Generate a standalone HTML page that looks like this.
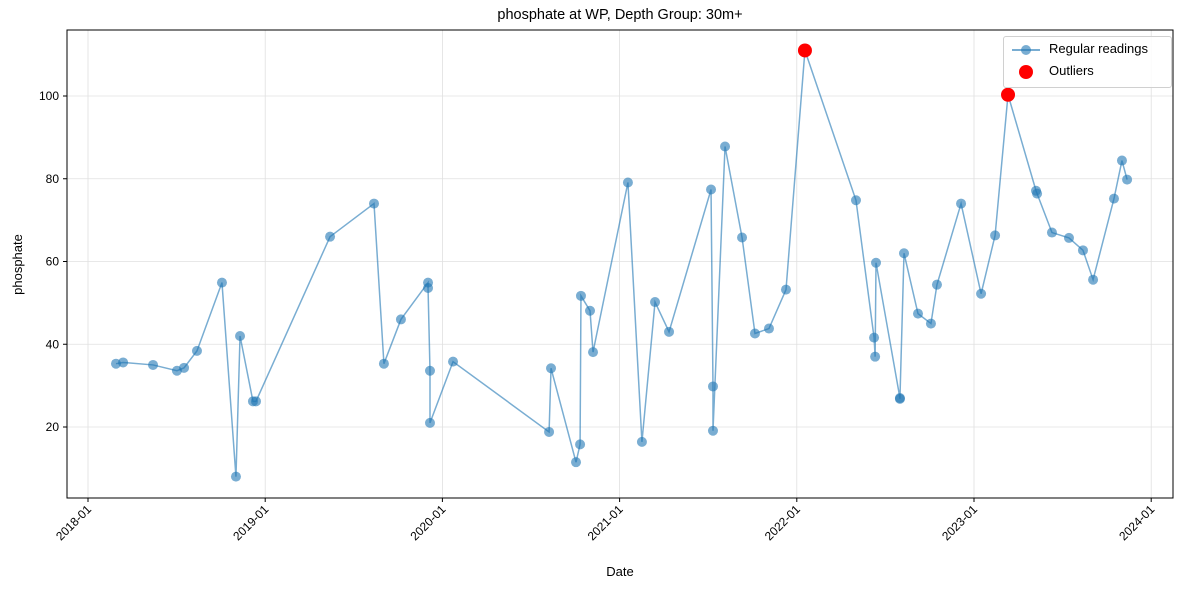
<!DOCTYPE html>
<html><head><meta charset="utf-8"><style>
body{margin:0;background:#fff;}
svg{display:block;font-family:"Liberation Sans","DejaVu Sans",sans-serif;}
</style></head><body>
<svg id="chart" width="1187" height="589" xmlns="http://www.w3.org/2000/svg"></svg>
<script>
const years=[2018.158,2018.198,2018.367,2018.502,2018.542,2018.615,2018.756,2018.835,2018.858,2018.931,2018.948,2019.366,2019.614,2019.670,2019.766,2019.919,2019.919,2019.930,2019.930,2020.060,2020.602,2020.613,2020.754,2020.777,2020.782,2020.833,2020.850,2021.047,2021.126,2021.200,2021.279,2021.516,2021.527,2021.527,2021.595,2021.691,2021.764,2021.843,2021.939,2022.046,2022.334,2022.436,2022.442,2022.447,2022.582,2022.582,2022.605,2022.684,2022.757,2022.791,2022.927,2023.040,2023.119,2023.192,2023.350,2023.356,2023.440,2023.536,2023.615,2023.672,2023.790,2023.835,2023.864];
const values=[35.3,35.6,35,33.6,34.3,38.4,54.9,8,42,26.2,26.2,66,74,35.3,46,54.9,53.6,33.6,21,35.8,18.8,34.2,11.5,15.8,51.7,48.1,38.1,79.1,16.4,50.2,43,77.4,29.8,19.1,87.8,65.8,42.6,43.8,53.2,111,74.8,41.6,37,59.7,27,26.8,62,47.4,45,54.4,74,52.2,66.3,100.3,77.1,76.4,67,65.7,62.7,55.6,75.2,84.4,79.8];
const outlierYears=[2022.046,2023.192];
const outlierValues=[111,100.3];
const yTicks=[20,40,60,80,100];
const xTicks=[2018,2019,2020,2021,2022,2023,2024];
const xTickLabels=["2018-01","2019-01","2020-01","2021-01","2022-01","2023-01","2024-01"];

const L=67,R=1173,T=30,B=498;
const xs=v=>88+(v-2018)*177.2;
const ys=v=>509.75-v*4.1375;
const svg=document.getElementById('chart');
const NS='http://www.w3.org/2000/svg';
function mk(tag,attrs,parent){const e=document.createElementNS(NS,tag);for(const k in attrs)e.setAttribute(k,attrs[k]);(parent||svg).appendChild(e);return e;}

yTicks.forEach(t=>{const g=mk('line',{x1:L,x2:R,y1:ys(t),y2:ys(t),stroke:'#e0e0e0','stroke-width':0.8});

});
xTicks.forEach(t=>{const g=mk('line',{x1:xs(t),x2:xs(t),y1:T,y2:B,stroke:'#e0e0e0','stroke-width':0.8});

});

const pts=years.map((y,i)=>xs(y)+','+ys(values[i])).join(' ');
const pl=mk('polyline',{points:pts,fill:'none',stroke:'#1f77b4','stroke-width':1.5,'stroke-opacity':0.6});


years.forEach((y,i)=>{const c=mk('circle',{cx:xs(y),cy:ys(values[i]),r:5,fill:'#1f77b4','fill-opacity':0.6});

});
outlierYears.forEach((y,i)=>{const c=mk('circle',{cx:xs(y),cy:ys(outlierValues[i]),r:7,fill:'#ff0000'});

});

const fr=mk('rect',{x:L,y:T,width:R-L,height:B-T,fill:'none',stroke:'#000','stroke-width':1});



yTicks.forEach(t=>{mk('line',{x1:L-4,x2:L,y1:ys(t),y2:ys(t),stroke:'#000'});
const tx=mk('text',{x:L-8,y:ys(t)+4,'text-anchor':'end','font-size':12});tx.textContent=t;

});
xTicks.forEach((t,i)=>{const x=xs(t)+4;mk('line',{x1:xs(t),x2:xs(t),y1:B,y2:B+4,stroke:'#000'});
const tx=mk('text',{x:x,y:B+12,'text-anchor':'end','font-size':12,transform:`rotate(-45 ${x} ${B+12})`});tx.textContent=xTickLabels[i];

});
</script>
<div style="position:absolute;left:0;top:0;width:1187px;height:589px;pointer-events:none;">
<div style="position:absolute;left:0;width:1240px;top:7px;text-align:center;font:14.5px 'Liberation Sans',sans-serif;">phosphate at WP, Depth Group: 30m+</div>
<div style="position:absolute;left:0;width:1240px;top:564px;text-align:center;font:13px 'Liberation Sans',sans-serif;">Date</div>
<div style="position:absolute;left:-13px;top:257px;transform:rotate(-90deg);font:13px 'Liberation Sans',sans-serif;">phosphate</div>
<div style="position:absolute;left:1003px;top:36px;width:167px;height:50px;border:1px solid #d0d0d0;border-radius:3px;background:rgba(255,255,255,0.85);font:13px 'Liberation Sans',sans-serif;">
<div style="position:absolute;left:8px;top:4px;white-space:nowrap;"><span style="display:inline-block;width:28px;height:2px;background:rgba(31,119,180,0.6);vertical-align:middle;position:relative;"><span style="position:absolute;left:9px;top:-4px;width:10px;height:10px;border-radius:50%;background:rgba(31,119,180,0.6);"></span></span><span style="margin-left:9px;">Regular readings</span></div>
<div style="position:absolute;left:8px;top:26px;white-space:nowrap;"><span style="display:inline-block;width:28px;height:2px;vertical-align:middle;position:relative;"><span style="position:absolute;left:7px;top:-6px;width:14px;height:14px;border-radius:50%;background:#f00;"></span></span><span style="margin-left:9px;">Outliers</span></div>
</div>
</div>
</body></html>
